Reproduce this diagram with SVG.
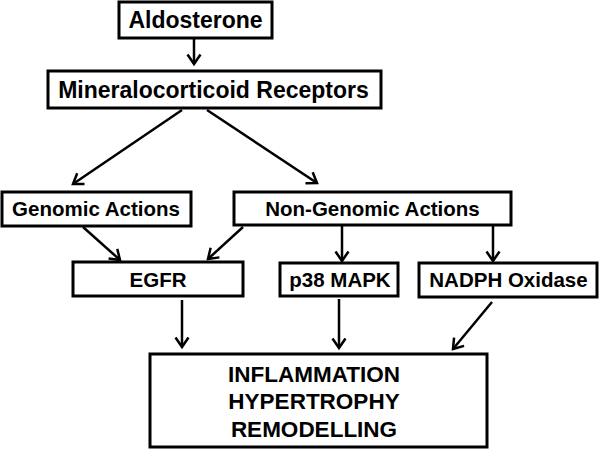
<svg xmlns="http://www.w3.org/2000/svg" width="600" height="449" viewBox="0 0 600 449">
<defs>
<style>
.box{fill:#fff;stroke:#000;stroke-width:3}
.t{font-family:"Liberation Sans",Arial,sans-serif;font-weight:bold;fill:#000;text-anchor:middle}
.big{font-size:23px}
.mid{font-size:20.5px}
.low{font-size:22.5px}
.c{stroke:#000;stroke-width:2.5;fill:none}
</style>
<marker id="ah" markerUnits="userSpaceOnUse" markerWidth="14" markerHeight="16" viewBox="-12 -8 14 16" refX="0" refY="0" orient="auto" overflow="visible">
<path d="M-9.5,-6.5 L0,0 L-9.5,6.5" fill="none" stroke="#000" stroke-width="2.5"/>
</marker>
</defs>
<rect width="600" height="449" fill="#fff"/>
<g id="connectors">
<line class="c" x1="194" y1="38" x2="194" y2="64" marker-end="url(#ah)"/>
<line class="c" x1="182" y1="110" x2="73" y2="184" marker-end="url(#ah)"/>
<line class="c" x1="207" y1="110" x2="317" y2="183" marker-end="url(#ah)"/>
<line class="c" x1="83" y1="227" x2="120" y2="260" marker-end="url(#ah)"/>
<line class="c" x1="243" y1="227" x2="208" y2="259" marker-end="url(#ah)"/>
<line class="c" x1="342" y1="226" x2="342" y2="261" marker-end="url(#ah)"/>
<line class="c" x1="493" y1="226" x2="493" y2="261" marker-end="url(#ah)"/>
<line class="c" x1="182" y1="300" x2="182" y2="347" marker-end="url(#ah)"/>
<line class="c" x1="339" y1="299" x2="339" y2="348" marker-end="url(#ah)"/>
<line class="c" x1="492" y1="302" x2="453" y2="349" marker-end="url(#ah)"/>
</g>
<g id="aldosterone">
<rect class="box" x="119" y="2" width="153" height="36"/>
<text class="t big" x="195.5" y="28">Aldosterone</text>
</g>
<g id="mineralocorticoid-receptors">
<rect class="box" x="48" y="71" width="333" height="37"/>
<text class="t big" x="213.5" y="98">Mineralocorticoid Receptors</text>
</g>
<g id="genomic-actions">
<rect class="box" x="2" y="192" width="189" height="34"/>
<text class="t mid" x="96" y="216">Genomic Actions</text>
</g>
<g id="non-genomic-actions">
<rect class="box" x="234" y="192" width="277" height="33"/>
<text class="t mid" x="372.5" y="216">Non-Genomic Actions</text>
</g>
<g id="egfr">
<rect class="box" x="73" y="262" width="170" height="34"/>
<text class="t mid" x="158" y="287">EGFR</text>
</g>
<g id="p38-mapk">
<rect class="box" x="280" y="263" width="118" height="33"/>
<text class="t mid" x="340" y="287">p38 MAPK</text>
</g>
<g id="nadph-oxidase">
<rect class="box" x="419" y="263" width="178" height="34"/>
<text class="t mid" x="508.5" y="287">NADPH Oxidase</text>
</g>
<g id="outcome">
<rect class="box" x="150" y="354" width="337" height="93"/>
<text class="t low" x="314" y="382">INFLAMMATION</text>
<text class="t low" x="314" y="409">HYPERTROPHY</text>
<text class="t low" x="314" y="437">REMODELLING</text>
</g>
</svg>
